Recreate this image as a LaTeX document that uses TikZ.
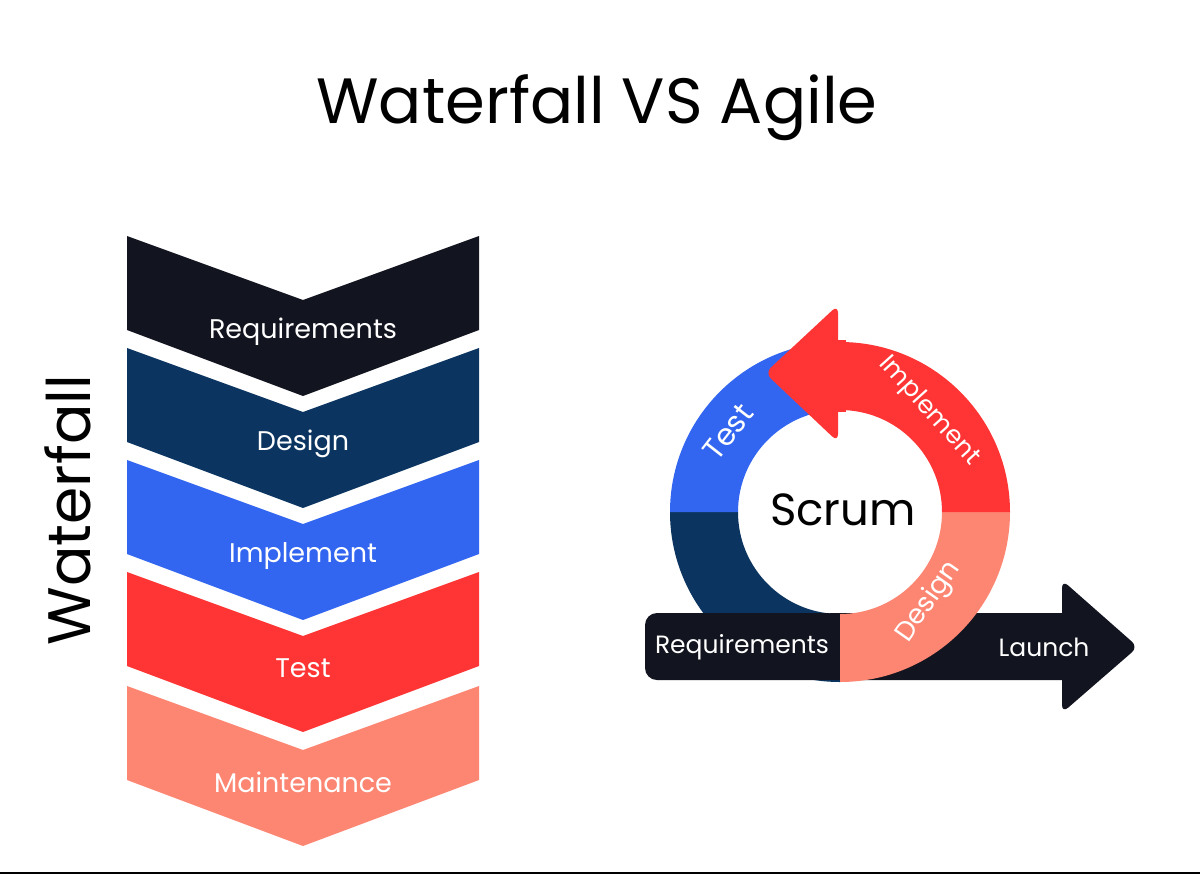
\documentclass[tikz,border=0pt]{standalone}
\usepackage{fontspec}
\setmainfont{Poppins}
\begin{document}
\begin{tikzpicture}[x=1pt,y=-1pt,
  lbl/.style={text=white,font=\fontsize{27}{30}\selectfont},
  rlbl/.style={text=white,font=\fontsize{25}{28}\selectfont}]
\definecolor{cblack}{HTML}{12151F}
\definecolor{cnavy}{HTML}{0B3560}
\definecolor{cblue}{HTML}{3366F0}
\definecolor{cred}{HTML}{FF3535}
\definecolor{csalmon}{HTML}{FD8673}
\useasboundingbox (0,0) rectangle (1200,876);
\fill[white] (0,0) rectangle (1200,876);
\draw[line width=1.5pt] (0,873) -- (1200,873);
\node (title) at (597,108) {\fontsize{64}{70}\selectfont Waterfall VS Agile};
\node[rotate=90] (wf) at (68,510) {\fontsize{60}{64}\selectfont Waterfall};
% chevrons
\foreach \y/\c/\t/\n in {236/cblack/Requirements/c1,348/cnavy/Design/c2,460/cblue/Implement/c3,572/cred/Test/c4,686/csalmon/Maintenance/c5}{
  \fill[\c] (127,\y) -- (303,\y+64) -- (479,\y) -- (479,\y+94) -- (303,\y+160) -- (127,\y+94) -- cycle;
  \node[lbl] (\n) at (303,\y+96) {\t};
}
% scrum ring (upward y inside scope)
\begin{scope}[x=1pt,y=1pt,shift={(840,-512)}]
\fill[cnavy] (180:170) arc[start angle=180,end angle=270,radius=170] -- (270:102) arc[start angle=270,end angle=180,radius=102] -- cycle;
\fill[cblue] (180:170) arc[start angle=180,end angle=90,radius=170] -- (90:102) arc[start angle=90,end angle=180,radius=102] -- cycle;
\end{scope}
% bar + arrow
\fill[cblack,rounded corners=12pt] (840,613) -- (645,613) -- (645,680) -- (840,680) -- cycle;
\fill[cblack] (830,613) -- (1062,613) [rounded corners=8pt]-- (1062,580) -- (1138,647) -- (1062,713) [sharp corners]-- (1062,680) -- (830,680) -- cycle;
\begin{scope}[x=1pt,y=1pt,shift={(840,-512)}]
\fill[csalmon] (0:170) arc[start angle=0,end angle=-90,radius=170] -- (-90:102) arc[start angle=-90,end angle=0,radius=102] -- cycle;
\fill[cred] (0:170) arc[start angle=0,end angle=90,radius=170] -- (90:102) arc[start angle=90,end angle=0,radius=102] -- cycle;
\end{scope}
\fill[cred,rounded corners=8pt] (838,305) -- (765,373) -- (838,442) -- cycle;
\fill[cred] (834,340) rectangle (846,412);
\node (scrum) at (843,510) {\fontsize{45}{50}\selectfont Scrum};
\node[rlbl,rotate=52,font=\fontsize{30}{32}\selectfont] (st) at (728,432) {Test};
\node[rlbl,rotate=-48] (si) at (929,411) {Implement};
\node[rlbl,rotate=55,font=\fontsize{27}{30}\selectfont] (sd) at (929,602) {Design};
\node[rlbl] (sr) at (742,647) {Requirements};
\node[rlbl] (sl) at (1044,647) {Launch};
\end{tikzpicture}
\end{document}
